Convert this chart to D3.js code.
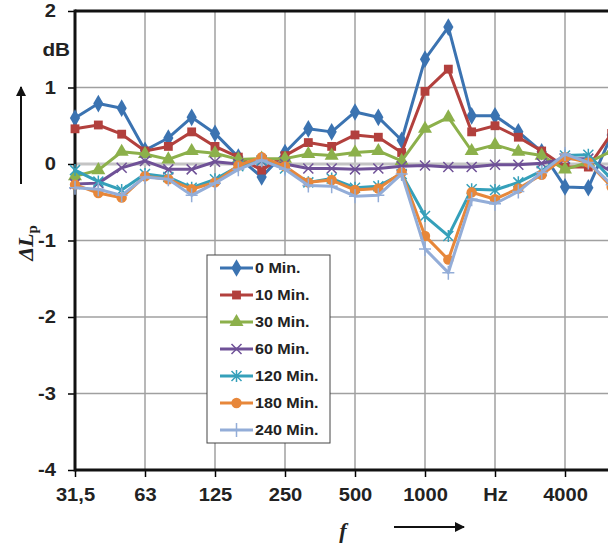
<!DOCTYPE html>
<html><head><meta charset="utf-8">
<script src="https://cdn.jsdelivr.net/npm/d3@7"></script>
<style>body{margin:0;background:#fff}svg{display:block}</style>
</head><body>
<svg id="c" width="608" height="545"></svg>
<script>
const categories = ["31,5","40","50","63","80","100","125","160","200","250","315","400","500","630","800","1000","1250","1600","2000","2500","3150","4000","5000","6300"];
const xTickIndex = [0,3,6,9,12,15,18,21,24];
const xTickLabels = ["31,5","63","125","250","500","1000","Hz","4000",""];
const yTicks = [2,1,0,-1,-2,-3,-4];
const seriesNames = ["0 Min.","10 Min.","30 Min.","60 Min.","120 Min.","180 Min.","240 Min."];
const min0   = [0.60,0.79,0.73,0.18,0.34,0.61,0.40,0.09,-0.17,0.15,0.46,0.42,0.68,0.61,0.31,1.37,1.79,0.63,0.63,0.42,0.16,-0.30,-0.31,0.38];
const min10  = [0.46,0.51,0.39,0.17,0.23,0.42,0.23,0.09,-0.08,0.11,0.28,0.23,0.38,0.35,0.15,0.95,1.24,0.42,0.50,0.35,0.17,-0.04,-0.04,0.40];
const min30  = [-0.16,-0.08,0.16,0.13,0.06,0.17,0.14,0.06,0.07,0.07,0.13,0.11,0.15,0.17,0.04,0.46,0.61,0.17,0.25,0.16,0.11,-0.07,0.02,0.17];
const min60  = [-0.26,-0.25,-0.05,0.04,-0.07,-0.07,0.03,0.00,0.04,0.00,-0.06,-0.06,-0.07,-0.06,-0.03,-0.02,-0.04,-0.04,-0.01,-0.01,0.01,0.07,0.07,-0.10];
const min120 = [-0.08,-0.23,-0.34,-0.13,-0.17,-0.31,-0.20,-0.03,0.05,-0.06,-0.24,-0.19,-0.31,-0.29,-0.13,-0.68,-0.94,-0.33,-0.34,-0.24,-0.09,0.11,0.12,-0.20];
const min180 = [-0.27,-0.38,-0.44,-0.16,-0.20,-0.33,-0.24,-0.02,0.09,-0.03,-0.24,-0.21,-0.34,-0.32,-0.11,-0.94,-1.25,-0.37,-0.46,-0.32,-0.14,0.09,0.02,-0.30];
const min240 = [-0.31,-0.33,-0.41,-0.17,-0.20,-0.41,-0.25,-0.07,0.05,-0.07,-0.28,-0.29,-0.42,-0.41,-0.13,-1.11,-1.42,-0.46,-0.52,-0.36,-0.11,0.13,0.02,-0.27];
const seriesValues = [min0,min10,min30,min60,min120,min180,min240];
const colors = ["#3b73b1","#b2403d","#8cb04b","#6f5197","#35a0ba","#e7873a","#93add8"];
const markers = ["diamond","square","triangle","x","star","circle","plus"];

const svg = d3.select("#c");
const L = 75, T = 11, B = 470, R = 635;
const SX = 1.15;
const x = d3.scaleLinear().domain([0,24]).range([L,R]);
const y = d3.scaleLinear().domain([-4,2]).range([B,T]);
const font = "'Liberation Sans', Arial, sans-serif";

// gridlines
const g = svg.append("g");
g.selectAll(".vg").data(xTickIndex.slice(1)).enter().append("line")
  .attr("x1",d=>x(d)).attr("x2",d=>x(d)).attr("y1",T).attr("y2",B)
  .attr("stroke","#a0a0a0").attr("stroke-width",1.5);
g.selectAll(".hg").data(yTicks.filter(v=>v!==2 && v!==-4 && v!==0)).enter().append("line")
  .attr("x1",L).attr("x2",608).attr("y1",d=>y(d)).attr("y2",d=>y(d))
  .attr("stroke","#a0a0a0").attr("stroke-width",1.5);
g.append("line").attr("x1",L).attr("x2",608).attr("y1",y(0)).attr("y2",y(0))
  .attr("stroke","#c4c4c4").attr("stroke-width",3);

// axes with d3
const yAxis = d3.axisLeft(y).tickValues(yTicks).tickSize(7).tickPadding(12).tickFormat(d=>d);
const ya = svg.append("g").attr("transform",`translate(${L},0)`).call(yAxis);
ya.select(".domain").remove();
ya.selectAll(".tick line").attr("stroke","#000").attr("stroke-width",1.5);
ya.selectAll(".tick text").attr("font-family",font).attr("font-weight","bold").attr("font-size",17.5).attr("fill","#222")
  .attr("x",-19/SX).attr("transform",`scale(${SX},1)`);

const xAxis = d3.axisBottom(x).tickValues(xTickIndex).tickSize(7).tickPadding(12)
  .tickFormat((d,i)=>xTickLabels[i]);
const xa = svg.append("g").attr("transform",`translate(0,${B})`).call(xAxis);
xa.select(".domain").remove();
xa.selectAll(".tick line").attr("stroke","#000").attr("stroke-width",1.5);
xa.selectAll(".tick text").attr("font-family",font).attr("font-weight","bold").attr("font-size",17.5).attr("fill","#222")
  .attr("transform",`scale(${SX},1)`);

// frame lines
svg.append("line").attr("x1",L).attr("x2",608).attr("y1",T).attr("y2",T).attr("stroke","#111").attr("stroke-width",3);
svg.append("line").attr("x1",L).attr("x2",608).attr("y1",B).attr("y2",B).attr("stroke","#111").attr("stroke-width",3);
svg.append("line").attr("x1",L).attr("x2",L).attr("y1",T-1.5).attr("y2",B+1.5).attr("stroke","#111").attr("stroke-width",3);

// marker drawing
function drawMarker(sel, type, color){
  if(type==="diamond") sel.append("path").attr("d",d3.symbol(d3.symbolDiamond,90)()).attr("fill",color);
  else if(type==="square") sel.append("path").attr("d",d3.symbol(d3.symbolSquare,78)()).attr("fill",color);
  else if(type==="triangle") sel.append("path").attr("d",d3.symbol(d3.symbolTriangle,85)()).attr("fill",color);
  else if(type==="circle") sel.append("circle").attr("r",5.2).attr("fill",color);
  else if(type==="x") sel.append("path").attr("d","M-5,-5L5,5M-5,5L5,-5").attr("stroke",color).attr("stroke-width",1.5).attr("fill","none");
  else if(type==="star") sel.append("path").attr("d","M-5,-5L5,5M-5,5L5,-5M0,-6L0,6").attr("stroke",color).attr("stroke-width",1.5).attr("fill","none");
  else if(type==="plus") sel.append("path").attr("d","M-6,0L6,0M0,-7L0,7").attr("stroke",color).attr("stroke-width",1.5).attr("fill","none");
}

const line = d3.line().x((d,i)=>x(i)).y(d=>y(d));
seriesValues.forEach((vals,k)=>{
  const sg = svg.append("g");
  sg.append("path").datum(vals).attr("d",line).attr("fill","none")
    .attr("stroke",colors[k]).attr("stroke-width",3).attr("stroke-linejoin","round");
  vals.forEach((v,i)=>{
    const m = sg.append("g").attr("transform",`translate(${x(i)},${y(v)})`);
    drawMarker(m, markers[k], colors[k]);
  });
});

// legend
const lg = svg.append("g");
lg.append("rect").attr("x",207).attr("y",255).attr("width",123).attr("height",188)
  .attr("fill","#fff").attr("stroke","#444").attr("stroke-width",1);
const ly = d3.scaleLinear().domain([0,6]).range([268,430]);
seriesNames.forEach((n,k)=>{
  const yy = ly(k);
  lg.append("line").attr("x1",220).attr("x2",253).attr("y1",yy).attr("y2",yy)
    .attr("stroke",colors[k]).attr("stroke-width",3);
  drawMarker(lg.append("g").attr("transform",`translate(236.5,${yy})`), markers[k], colors[k]);
  lg.append("text").attr("x",255/SX).attr("y",yy+5).text(n).attr("transform",`scale(${SX},1)`)
    .attr("font-family",font).attr("font-weight","bold").attr("font-size",14).attr("fill","#222");
});

// unit and labels
svg.append("text").attr("x",70/SX).attr("y",56).attr("text-anchor","end").text("dB").attr("transform",`scale(${SX},1)`)
  .attr("font-family",font).attr("font-weight","bold").attr("font-size",18).attr("fill","#222");

const defs = svg.append("defs");
defs.append("marker").attr("id","ah").attr("viewBox","0 0 10 10").attr("refX",9).attr("refY",5)
  .attr("markerWidth",5).attr("markerHeight",5).attr("orient","auto")
  .append("path").attr("d","M0,0L10,5L0,10Z").attr("fill","#111");
svg.append("line").attr("x1",21).attr("x2",21).attr("y1",184).attr("y2",87)
  .attr("stroke","#111").attr("stroke-width",2).attr("marker-end","url(#ah)");
svg.append("line").attr("x1",394).attr("x2",464).attr("y1",527).attr("y2",527)
  .attr("stroke","#111").attr("stroke-width",2).attr("marker-end","url(#ah)");

const yl = svg.append("text").attr("transform","translate(33,243) rotate(-90)").attr("text-anchor","middle")
  .attr("font-family","'Liberation Serif', 'Times New Roman', serif").attr("font-weight","bold").attr("fill","#222");
yl.append("tspan").attr("font-style","italic").attr("font-size",22).text("ΔL");
yl.append("tspan").attr("font-size",15).attr("dy",4).text("p");

svg.append("text").attr("x",343).attr("y",538).attr("text-anchor","middle").text("f")
  .attr("font-family","'Liberation Serif', 'Times New Roman', serif").attr("font-style","italic").attr("font-weight","bold").attr("font-size",22).attr("fill","#222");
</script>
</body></html>
